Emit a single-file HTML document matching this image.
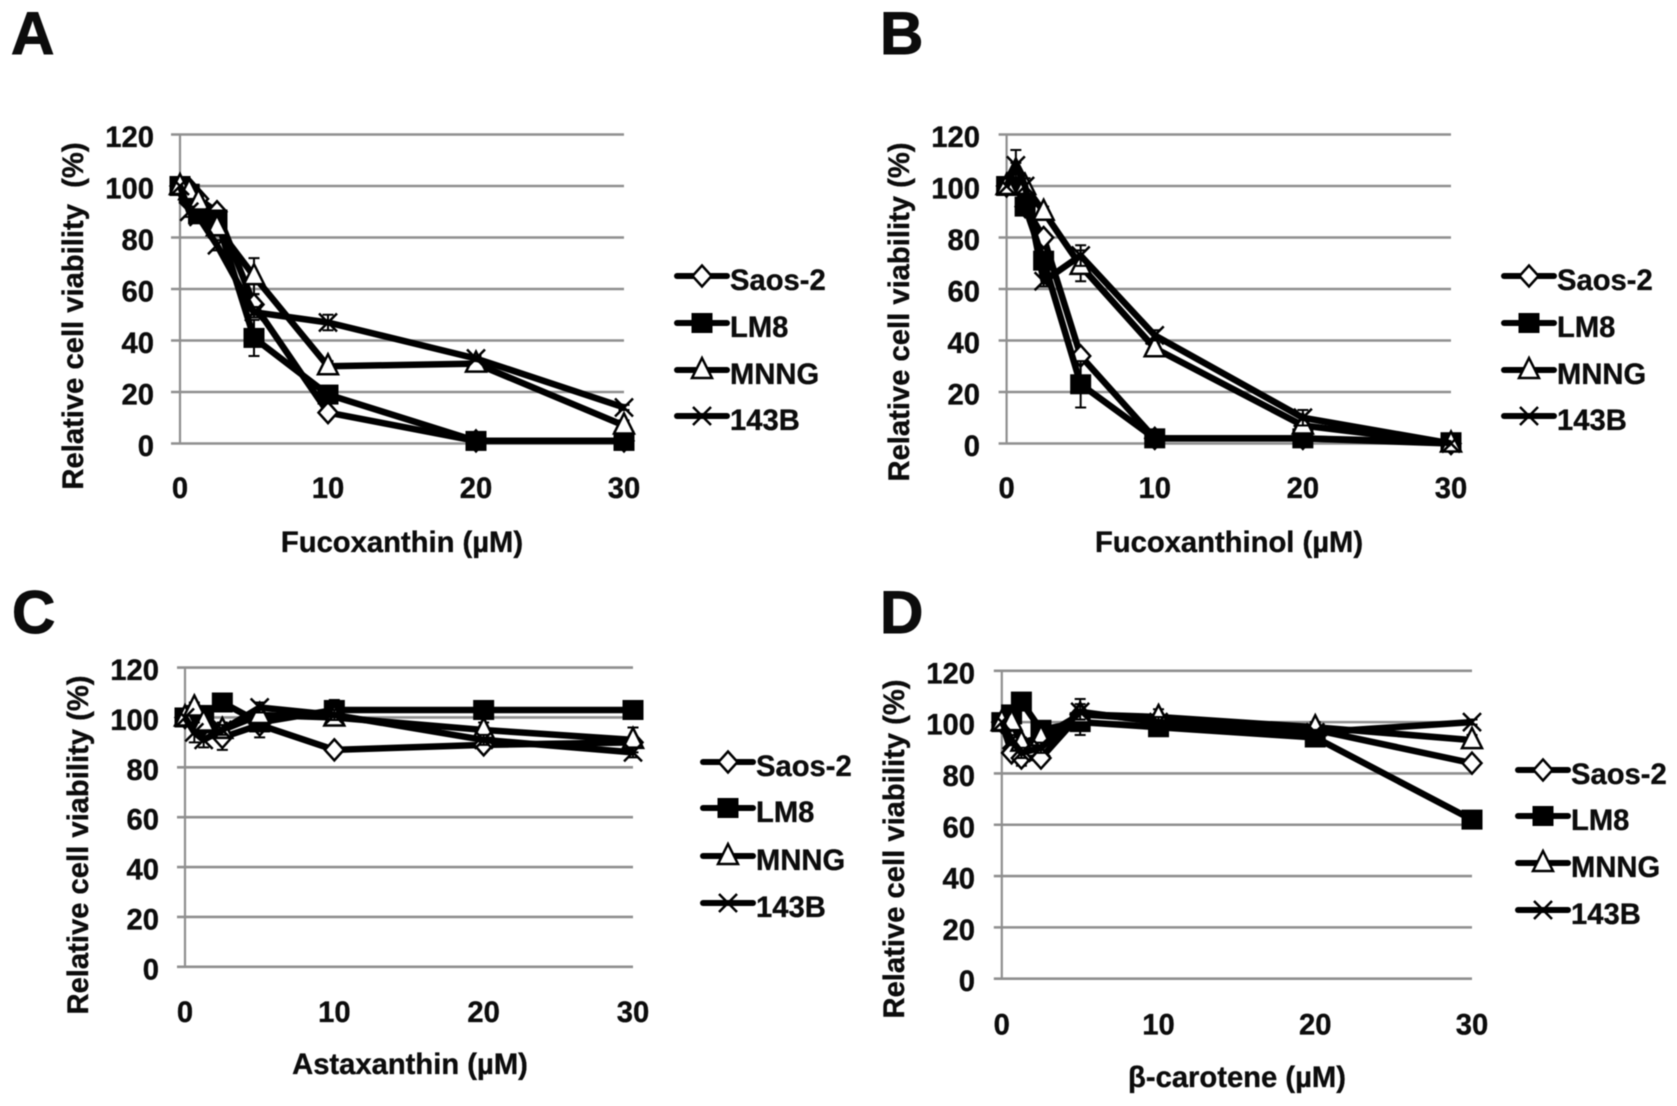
<!DOCTYPE html>
<html lang="en">
<head>
<meta charset="utf-8">
<title>Relative cell viability panels</title>
<style>
html,body{margin:0;padding:0;background:#fff;width:1677px;height:1106px;overflow:hidden}
svg{display:block;font-family:"Liberation Sans",Arial,sans-serif;font-weight:bold;fill:#111;filter:blur(0.4px)}
text{fill:#0c0c0c;stroke:#0c0c0c;stroke-width:0.35px}
.big{font-size:60px;stroke-width:1px}
.t{font-size:29.2px}
</style>
</head>
<body>
<svg id="figure" width="1677" height="1106" viewBox="0 0 1677 1106" xmlns="http://www.w3.org/2000/svg">
  <rect width="1677" height="1106" fill="#fff"/>
  <text class="big" x="11" y="54">A</text>
  <text class="big" x="880" y="54">B</text>
  <text class="big" x="12" y="633">C</text>
  <text class="big" x="880" y="633">D</text>

  <g id="panel-a"></g>
  <g id="panel-b"></g>
  <g id="panel-c"></g>
  <g id="panel-d"></g>

  <text class="t" text-anchor="middle" xml:space="preserve" transform="translate(83 316) rotate(-90)">Relative cell viability  (%)</text>
  <text class="t" text-anchor="middle" x="402" y="552">Fucoxanthin (µM)</text>
  <text class="t" text-anchor="middle" transform="translate(909 312) rotate(-90)">Relative cell viability (%)</text>
  <text class="t" text-anchor="middle" x="1229" y="552">Fucoxanthinol (µM)</text>
  <text class="t" text-anchor="middle" transform="translate(88 845) rotate(-90)">Relative cell viability (%)</text>
  <text class="t" text-anchor="middle" x="410" y="1074">Astaxanthin (µM)</text>
  <text class="t" text-anchor="middle" transform="translate(904 849) rotate(-90)">Relative cell viability (%)</text>
  <text class="t" text-anchor="middle" x="1237" y="1087">β-carotene (µM)</text>
</svg>
<script>
const concentrations = [0, 0.625, 1.25, 2.5, 5, 10, 20, 30];
const xTickLabels = [0, 10, 20, 30];
const yTickLabels = [0, 20, 40, 60, 80, 100, 120];
const seriesNames = ['Saos-2', 'LM8', 'MNNG', '143B'];

const aSaos = [100, 99, 95, 90, 54, 12, 1, 1];
const aLM8 = [100, 97, 89, 87, 41, 19, 1, 1];
const aMNNG = [100, 98, 94, 84, 65, 30, 31, 7];
const a143B = [100, 90, 88, 77, 51, 47, 33, 14];
const aErrSaos = [0, 2, 2, 2, 4, 1, 0, 0];
const aErrLM8 = [0, 2, 3, 2, 7, 2, 0, 0];
const aErrMNNG = [0, 2, 2, 2, 7, 2, 1, 2];
const aErr143B = [0, 2, 2, 2, 2, 3, 1, 1];

const bSaos = [100, 103, 92, 80, 34, 2, 2, 0];
const bLM8 = [100, 100, 92, 71, 23, 2, 2, 0.5];
const bMNNG = [100, 106, 100, 90, 69, 37, 7, 0];
const b143B = [100, 108, 100, 63, 73, 42, 10, 0];
const bErrSaos = [0, 2, 2, 2, 2, 1, 0, 0];
const bErrLM8 = [0, 2, 2, 3, 9, 1, 0, 0];
const bErrMNNG = [0, 3, 2, 2, 6, 2, 1, 0];
const bErr143B = [0, 6, 3, 2, 4, 2, 3, 0];

const cSaos = [100, 100, 97, 92, 97, 87, 89, 90];
const cLM8 = [100, 101, 101, 106, 98, 103, 103, 103];
const cMNNG = [100, 104, 98, 95, 101, 100, 95, 91];
const c143B = [100, 94, 91, 95, 104, 101, 91, 86];
const cErrSaos = [0, 2, 2, 5, 5, 1, 2, 1];
const cErrLM8 = [0, 2, 2, 2, 2, 4, 3, 2];
const cErrMNNG = [0, 2, 3, 3, 2, 3, 3, 5];
const cErr143B = [0, 4, 3, 2, 2, 2, 2, 2];

const dSaos = [100, 88, 86, 86, 103, 101, 97, 84];
const dLM8 = [100, 103, 108, 97, 100, 98, 94, 62];
const dMNNG = [100, 100, 92, 94, 103, 102, 98, 93];
const d143B = [100, 93, 88, 90, 104, 100, 96, 100];
const dErrSaos = [0, 2, 3, 2, 3, 2, 1, 1];
const dErrLM8 = [0, 2, 2, 2, 5, 2, 2, 1];
const dErrMNNG = [0, 2, 2, 2, 6, 3, 2, 2];
const dErr143B = [0, 2, 2, 2, 3, 2, 1, 1];

const NS = 'http://www.w3.org/2000/svg';

function make(parent, tag, props) {
  const el = document.createElementNS(NS, tag);
  for (const k in props) el.setAttribute(k, props[k]);
  parent.appendChild(el);
  return el;
}

function drawMarker(parent, kind, x, y, label) {
  let el;
  if (kind === 0) {
    el = make(parent, 'polygon', {
      points: `${x},${y - 10.5} ${x + 9.5},${y} ${x},${y + 10.5} ${x - 9.5},${y}`,
      fill: '#fff', stroke: '#000', 'stroke-width': 2.5
    });
  } else if (kind === 1) {
    el = make(parent, 'rect', { x: x - 10.5, y: y - 10, width: 21, height: 20, fill: '#000' });
  } else if (kind === 2) {
    el = make(parent, 'polygon', {
      points: `${x},${y - 12} ${x + 10},${y + 8} ${x - 10},${y + 8}`,
      fill: '#fff', stroke: '#000', 'stroke-width': 2.5
    });
  } else {
    el = make(parent, 'path', {
      d: `M${x - 9},${y - 9}L${x + 9},${y + 9}M${x + 9},${y - 9}L${x - 9},${y + 9}`,
      fill: 'none', stroke: '#000', 'stroke-width': 2.5
    });
  }
  
  
}

function drawPanel(id, box, values, errors, legend) {
  const root = document.getElementById(id);
  const sx = v => box.x0 + (v / 30) * (box.x30 - box.x0);
  const sy = v => box.y0 + (v / 120) * (box.y120 - box.y0);

  yTickLabels.forEach(t => {
    const g = make(root, 'line', { x1: box.left, x2: box.x30, y1: sy(t), y2: sy(t), stroke: '#8f8f8f', 'stroke-width': 2.6 });
    
    
    const l = make(root, 'text', { x: box.labelRight, y: sy(t) + 12.5, 'text-anchor': 'end', class: 't' });
    l.textContent = t;
    
    
  });
  const axis = make(root, 'line', { x1: box.x0, x2: box.x0, y1: sy(120), y2: sy(0), stroke: '#8f8f8f', 'stroke-width': 2.2 });
  
  
  xTickLabels.forEach(t => {
    const l = make(root, 'text', { x: sx(t), y: box.xLabelY, 'text-anchor': 'middle', class: 't' });
    l.textContent = t;
    
    
  });

  values.forEach((vals, s) => {
    const g = make(root, 'g', {});
    
    
    const line = make(g, 'polyline', {
      points: vals.map((v, i) => sx(concentrations[i]) + ',' + sy(v)).join(' '),
      fill: 'none', stroke: '#000', 'stroke-width': 6.5, 'stroke-linejoin': 'round'
    });
    
    
    vals.forEach((v, i) => {
      const e = errors[s][i];
      if (!e) return;
      const x = sx(concentrations[i]);
      const err = make(g, 'path', {
        d: `M${x},${sy(v - e)}V${sy(v + e)}M${x - 5.5},${sy(v - e)}h11M${x - 5.5},${sy(v + e)}h11`,
        fill: 'none', stroke: '#000', 'stroke-width': 2
      });
      
      
    });
    vals.forEach((v, i) => drawMarker(g, s, sx(concentrations[i]), sy(v), 'data-point'));
  });

  seriesNames.forEach((name, s) => {
    const y = legend.ys[s];
    const g = make(root, 'g', {});
    
    
    const ln = make(g, 'line', { x1: legend.x, x2: legend.x + 50, y1: y, y2: y, stroke: '#000', 'stroke-width': 6, 'stroke-linecap': 'round' });
    
    
    drawMarker(g, s, legend.x + 25, y, 'legend-marker');
    const tx = make(g, 'text', { x: legend.x + 53, y: y + 14, class: 't' });
    tx.textContent = name;
    
    
  });
}

drawPanel('panel-a',
  { x0: 180, x30: 624, left: 171, y0: 443.5, y120: 134.5, labelRight: 154, xLabelY: 498 },
  [aSaos, aLM8, aMNNG, a143B], [aErrSaos, aErrLM8, aErrMNNG, aErr143B],
  { x: 677, ys: [276, 323, 370, 416] });
drawPanel('panel-b',
  { x0: 1006.6, x30: 1451, left: 998.6, y0: 443.5, y120: 134.5, labelRight: 980, xLabelY: 498 },
  [bSaos, bLM8, bMNNG, b143B], [bErrSaos, bErrLM8, bErrMNNG, bErr143B],
  { x: 1504, ys: [276, 323, 370, 416] });
drawPanel('panel-c',
  { x0: 185, x30: 633, left: 177, y0: 966.8, y120: 667.6, labelRight: 159, xLabelY: 1022 },
  [cSaos, cLM8, cMNNG, c143B], [cErrSaos, cErrLM8, cErrMNNG, cErr143B],
  { x: 703, ys: [762, 808, 856, 903] });
drawPanel('panel-d',
  { x0: 1001.8, x30: 1472, left: 993.8, y0: 978.7, y120: 670.8, labelRight: 975, xLabelY: 1034.5 },
  [dSaos, dLM8, dMNNG, d143B], [dErrSaos, dErrLM8, dErrMNNG, dErr143B],
  { x: 1518, ys: [770, 816, 863, 910] });
</script>
</body>
</html>
